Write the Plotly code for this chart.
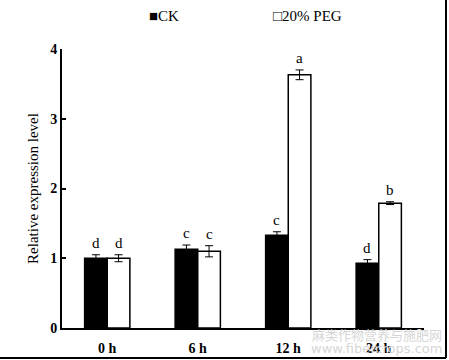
import plotly.graph_objects as go

categories = ["0 h", "6 h", "12 h", "24 h"]
ck_values = [1.00, 1.13, 1.33, 0.93]
ck_errors = [0.05, 0.06, 0.05, 0.05]
peg_values = [1.00, 1.10, 3.63, 1.79]
peg_errors = [0.05, 0.08, 0.07, 0.02]
ck_letters = ["d", "c", "c", "d"]
peg_letters = ["d", "c", "a", "b"]
y_ticks = [0, 1, 2, 3, 4]
legend_labels = ["■CK", "□20% PEG"]

FONT = "Liberation Serif"

# plot area spans screen x 62..424, y 49..328
PX0, PW = 62, 362
PY0, PH = 328, 279


def px(x):
    return (x - PX0) / PW


def py(y):
    return (PY0 - y) / PH


fig = go.Figure()
fig.add_trace(go.Bar(
    name="CK", x=categories, y=ck_values,
    marker=dict(color="black", line=dict(color="black", width=1.5)),
    error_y=dict(type="data", array=ck_errors, color="black", thickness=1, width=4),
    offsetgroup="ck", showlegend=False,
))
fig.add_trace(go.Bar(
    name="20% PEG", x=categories, y=peg_values,
    marker=dict(color="white", line=dict(color="black", width=1.5)),
    error_y=dict(type="data", array=peg_errors, color="black", thickness=1, width=4),
    offsetgroup="peg", showlegend=False,
))

for i, cat in enumerate(categories):
    fig.add_annotation(x=cat, y=ck_values[i] + ck_errors[i], text=ck_letters[i],
                       xshift=-11.5, yshift=2, yanchor="bottom", showarrow=False,
                       font=dict(family=FONT, size=15, color="black"))
    fig.add_annotation(x=cat, y=peg_values[i] + peg_errors[i], text=peg_letters[i],
                       xshift=11.5, yshift=2, yanchor="bottom", showarrow=False,
                       font=dict(family=FONT, size=15, color="black"))

# legend drawn as text, as in the reference
fig.add_annotation(xref="paper", yref="paper", x=px(147), y=py(16),
                   xanchor="left", yanchor="middle", text=legend_labels[0], showarrow=False,
                   font=dict(family=FONT, size=15, color="black"))
fig.add_annotation(xref="paper", yref="paper", x=px(271), y=py(16),
                   xanchor="left", yanchor="middle", text=legend_labels[1], showarrow=False,
                   font=dict(family=FONT, size=15, color="black"))

# watermark text
fig.add_annotation(xref="paper", yref="paper", x=px(444), y=py(334),
                   xanchor="right", yanchor="middle",
                   text="麻类作物营养与施肥网", showarrow=False,
                   font=dict(family="Noto Sans CJK SC", size=13, color="#d6d6d6"))
fig.add_annotation(xref="paper", yref="paper", x=px(444), y=py(348),
                   xanchor="right", yanchor="middle",
                   text="www.fibercrops.com", showarrow=False,
                   font=dict(family="DejaVu Sans", size=13, color="#d6d6d6"))

# image frame (right and bottom)
fig.add_shape(type="line", xref="paper", yref="paper", x0=px(446), x1=px(446), y0=py(358), y1=py(0),
              line=dict(color="black", width=2))
fig.add_shape(type="line", xref="paper", yref="paper", x0=px(0), x1=px(446), y0=py(358), y1=py(358),
              line=dict(color="black", width=2))

fig.update_layout(
    width=449, height=360,
    margin=dict(l=62, r=25, t=49, b=32, autoexpand=False),
    paper_bgcolor="white", plot_bgcolor="white",
    barmode="group", bargap=0.5, bargroupgap=0,
    font=dict(family=FONT, size=13, color="black"),
    showlegend=False,
    xaxis=dict(showline=True, linecolor="black", linewidth=2, ticks="", automargin=False,
               ticklabelstandoff=6,
               tickfont=dict(family=FONT, size=14, color="black", weight="bold"),
               range=[-0.5, 3.5]),
    yaxis=dict(range=[0, 4], tickvals=y_ticks, showline=True, linecolor="black", linewidth=2,
               ticks="inside", ticklen=4, tickwidth=1.5, tickcolor="black", showgrid=False,
               zeroline=False, automargin=False,
               tickfont=dict(family=FONT, size=14, color="black", weight="bold"),
               title=dict(text="Relative expression level", standoff=8,
                          font=dict(family=FONT, size=15, color="black"))),
)

fig.write_html("out.html", config={"displayModeBar": False},
               post_script="document.body.style.margin='0';document.body.style.overflow='hidden';")
